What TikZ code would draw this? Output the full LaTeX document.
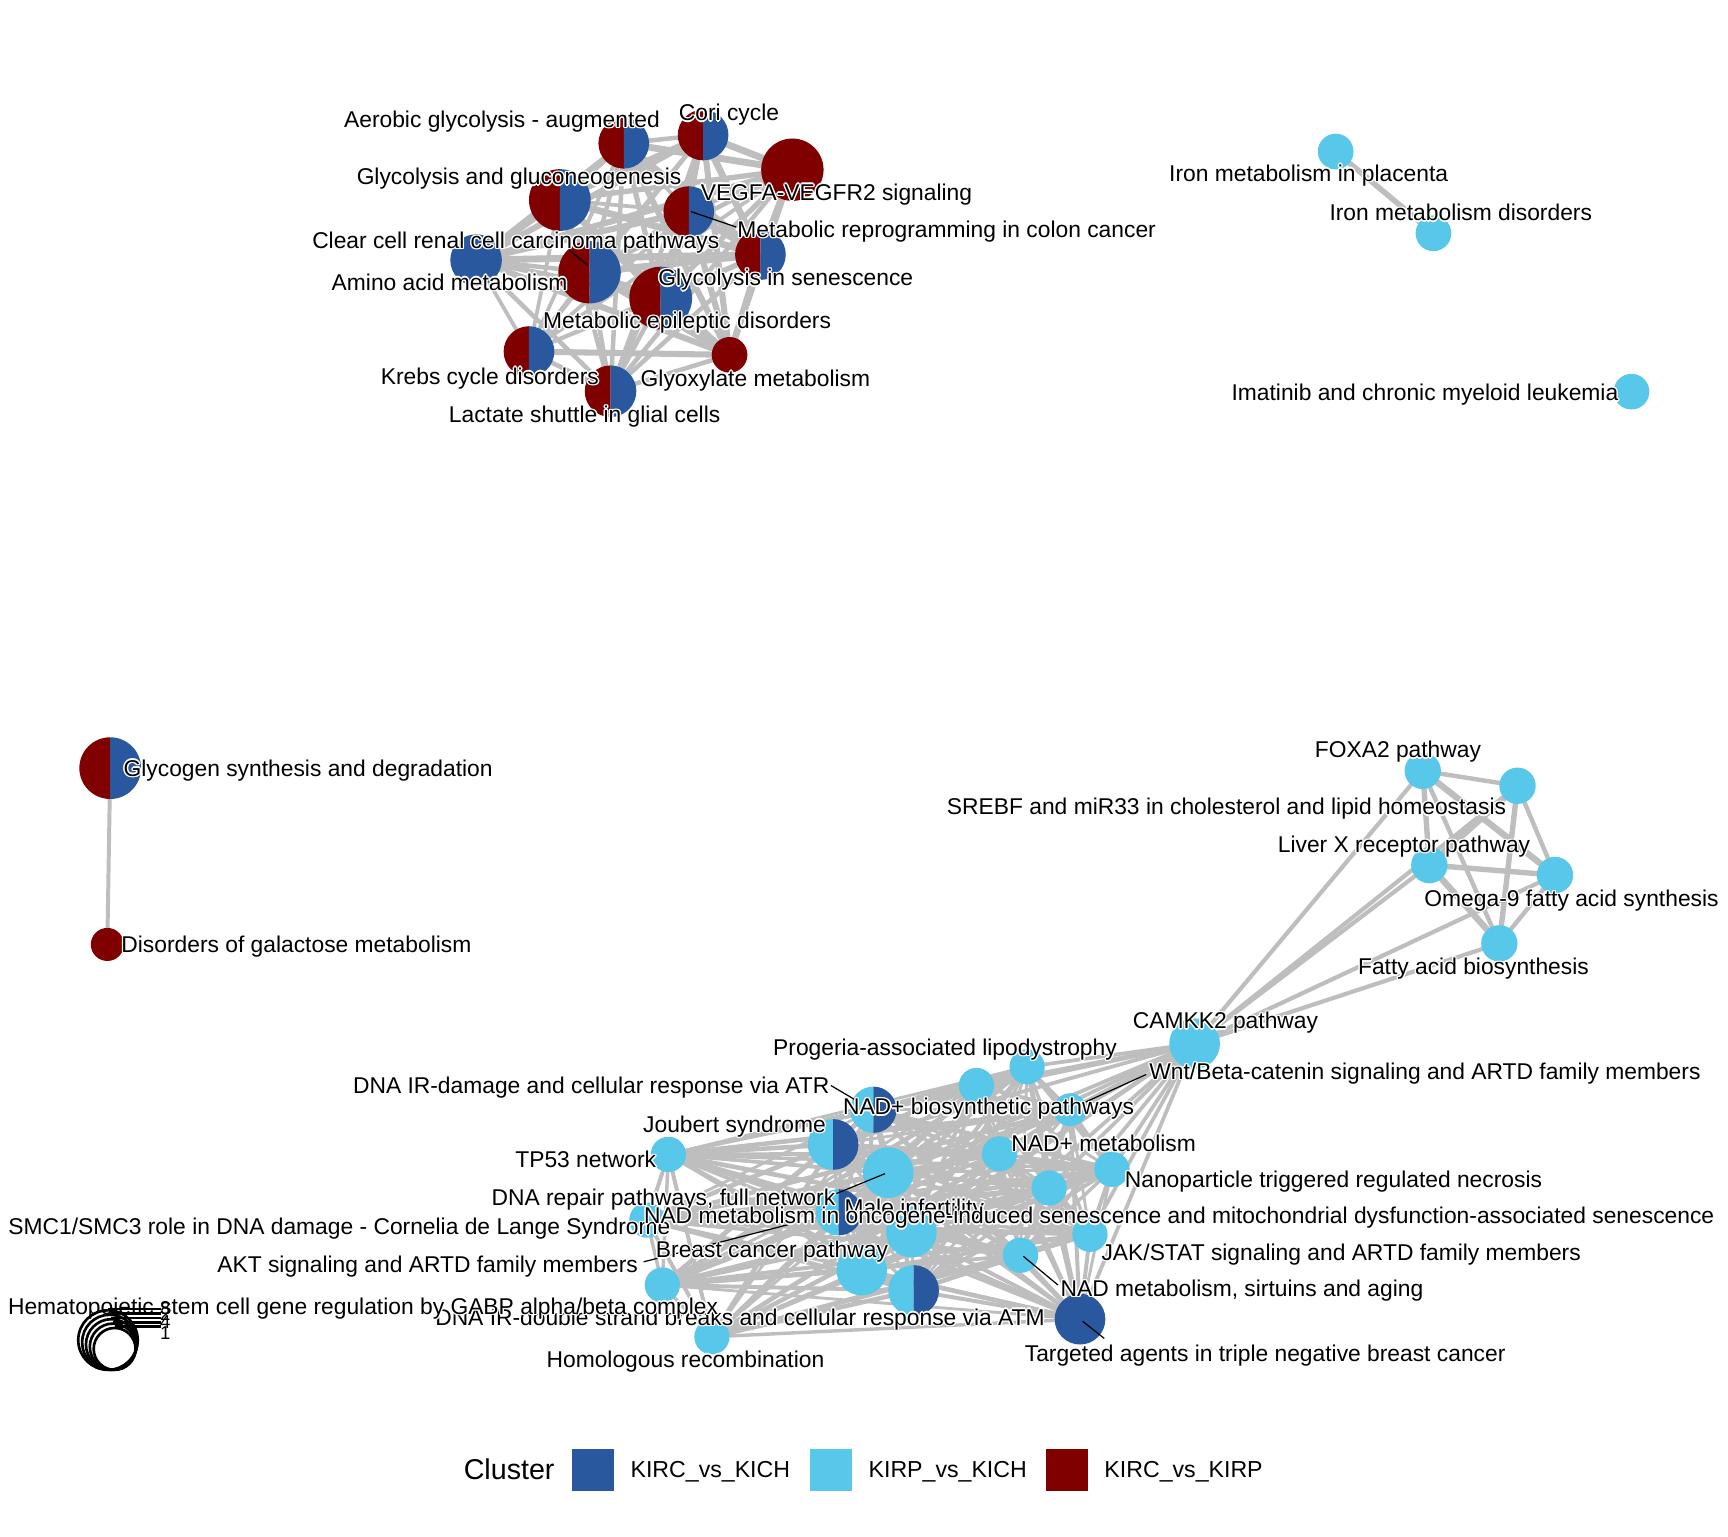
\documentclass[tikz,border=0pt]{standalone}
\usepackage{fontspec}
\setmainfont{Liberation Sans}
\definecolor{kkich}{RGB}{42,88,158}
\definecolor{pkich}{RGB}{87,199,234}
\definecolor{kkirp}{RGB}{128,0,0}
\definecolor{edgec}{RGB}{190,190,190}
\pgfdeclarelayer{bgw}
\pgfdeclarelayer{edges}
\pgfsetlayers{bgw,edges,main}
\newcommand\hl[3]{\rlap{\kern#1\raisebox{#2}{\textcolor{white}{#3}}}}
\newcommand\halo[1]{\hl{-1.3pt}{0pt}{#1}\hl{1.3pt}{0pt}{#1}\hl{0pt}{1.3pt}{#1}\hl{0pt}{-1.3pt}{#1}\hl{-.9pt}{.9pt}{#1}\hl{.9pt}{.9pt}{#1}\hl{-.9pt}{-.9pt}{#1}\hl{.9pt}{-.9pt}{#1}#1}
\newcommand\dotnode[4]{\node[circle,inner sep=0pt,minimum size=#3pt*2,fill=#4] (#1) at (#2) {};}
\newcommand\pienode[5]{%
  \node[circle,inner sep=0pt,minimum size=#3pt*2] (#1) at (#2) {};
  \fill[#4] (#1.center) ++(0pt,#3pt) arc[start angle=90,end angle=270,radius=#3pt] -- cycle;
  \fill[#5] (#1.center) ++(0pt,-#3pt) arc[start angle=-90,end angle=90,radius=#3pt] -- cycle;}
\begin{document}
\begin{tikzpicture}[x=1pt,y=-1pt,
  edge/.style={draw=edgec,line cap=round},
  lbl/.style={font=\fontsize{20.7}{24}\selectfont,inner sep=0pt,anchor=base},
  lblw/.style={lbl,anchor=base west},
  seg/.style={draw=black,line width=1.1pt},
  leg/.style={font=\fontsize{21}{25}\selectfont,inner sep=0pt,anchor=base west},
  sqr/.style={minimum size=38pt,inner sep=0pt},
  szc/.style={circle,draw=black,line width=2.4pt,inner sep=0pt},
  dig/.style={font=\fontsize{17}{19}\selectfont,inner sep=0pt}]
\begin{pgfonlayer}{bgw}
\fill[white] (0,0) rectangle (1568,1394);
\end{pgfonlayer}
\useasboundingbox (0,0) rectangle (1568,1394);

% ---------- top cluster nodes
\pienode{a4}{508,181.5}{28}{kkirp}{kkich}
\dotnode{a3}{719,154}{28.3}{kkirp}
\pienode{a1}{566,130}{23}{kkirp}{kkich}
\pienode{a2}{638,122.5}{23}{kkirp}{kkich}
\pienode{a5}{625,192}{23}{kkirp}{kkich}
\dotnode{a6}{432,236}{23.4}{kkich}
\pienode{a7}{535,247}{28.3}{kkirp}{kkich}
\pienode{a8}{690,231}{23}{kkirp}{kkich}
\pienode{a9}{599.5,270.5}{28.5}{kkirp}{kkich}
\pienode{a10}{480,319}{23}{kkirp}{kkich}
\dotnode{a11}{662,322}{16.2}{kkirp}
\pienode{a12}{554,355}{23.4}{kkirp}{kkich}

% ---------- iron / imatinib
\dotnode{d1}{1212,137.5}{16.2}{pkich}
\dotnode{d2}{1300.7,211.7}{16.2}{pkich}
\dotnode{d3}{1480.4,355.4}{16.2}{pkich}

% ---------- glycogen
\pienode{e1}{100,697}{28}{kkirp}{kkich}
\dotnode{e2}{97.4,857}{15}{kkirp}

% ---------- FOXA2 cluster
\dotnode{c1}{1291,699.5}{16.5}{pkich}
\dotnode{c2}{1377,713}{16.5}{pkich}
\dotnode{c3}{1297,785}{16.5}{pkich}
\dotnode{c4}{1411,794}{16.5}{pkich}
\dotnode{c5}{1360.5,856}{16.5}{pkich}

% ---------- lower cluster
\dotnode{b21}{1084,947}{23}{pkich}
\dotnode{b12}{886,985}{16}{pkich}
\dotnode{b13}{932,968}{16}{pkich}
\dotnode{b14}{971,1007}{15}{pkich}
\dotnode{b15}{907,1047}{16}{pkich}
\dotnode{b16}{1009,1061}{16}{pkich}
\dotnode{b17}{952,1078}{16}{pkich}
\dotnode{b18}{989,1120}{16}{pkich}
\dotnode{b19}{926,1139}{16}{pkich}
\dotnode{b20}{980,1197}{23}{kkich}
\dotnode{b3}{606.5,1047.5}{16}{pkich}
\dotnode{b7}{587,1107}{16}{pkich}
\dotnode{b8}{601,1166}{16}{pkich}
\dotnode{b11}{646,1213}{16}{pkich}
\pienode{b1}{792.5,1007}{21}{pkich}{kkich}
\pienode{b2}{756,1038.5}{23}{pkich}{kkich}
\dotnode{b4}{806,1064}{23}{pkich}
\pienode{b5}{761,1100}{21}{pkich}{kkich}
\dotnode{b6}{827,1118}{23}{pkich}
\dotnode{b9}{782,1152.5}{23}{pkich}
\pienode{b10}{829,1171}{23}{pkich}{kkich}

% ---------- edges
\begin{pgfonlayer}{edges}
\foreach \u [count=\i] in {a1,a2,a3,a4,a5,a6,a7,a8,a9,a10,a11,a12}{
  \foreach \v [count=\j] in {a1,a2,a3,a4,a5,a6,a7,a8,a9,a10,a11,a12}{
    \ifnum\j>\i
      \pgfmathsetmacro\w{3.4+mod(\i*5+\j*3,5)*0.7}
      \draw[edge,line width=\w pt] (\u) -- (\v);
    \fi}}
\foreach \u [count=\i] in {b1,b2,b3,b4,b5,b6,b7,b8,b9,b10,b11,b12,b13,b14,b15,b16,b17,b18,b19,b20}{
  \foreach \v [count=\j] in {b1,b2,b3,b4,b5,b6,b7,b8,b9,b10,b11,b12,b13,b14,b15,b16,b17,b18,b19,b20}{
    \ifnum\j>\i
      \pgfmathsetmacro\w{2.6+mod(\i*3+\j*7,4)*0.5}
      \draw[edge,line width=\w pt] (\u) -- (\v);
    \fi}}
\foreach \v in {b1,b2,b3,b4,b5,b6,b9,b10,b12,b13,b14,b15,b16,b17,b18,b19,b20}
  \draw[edge,line width=3.4pt] (b21) -- (\v);
\foreach \u [count=\i] in {c1,c2,c3,c4,c5}{
  \foreach \v [count=\j] in {c1,c2,c3,c4,c5}{
    \ifnum\j>\i
      \pgfmathsetmacro\w{4+mod(\i+\j,3)*0.9}
      \draw[edge,line width=\w pt] (\u) -- (\v);
    \fi}}
\foreach \v in {c1,c2,c3,c4,c5}
  \draw[edge,line width=3.8pt] (b21) -- (\v);
\draw[edge,line width=5pt] (d1) -- (d2);
\draw[edge,line width=3.6pt] (e1) -- (e2);
\end{pgfonlayer}

% ---------- leader segments
\coordinate (sF1) at (517,227.5); \coordinate (sF2) at (533,240.5);
\coordinate (sE1) at (627,192);   \coordinate (sE2) at (668,206);
\coordinate (s21) at (754,985);   \coordinate (s22) at (776,998);
\coordinate (s31) at (1040,975);  \coordinate (s32) at (985,1000);
\coordinate (s91) at (759,1083);  \coordinate (s92) at (803,1065);
\coordinate (s151) at (584,1145); \coordinate (s152) at (720,1110);
\coordinate (s161) at (928.6,1140); \coordinate (s162) at (960,1166);
\coordinate (s201) at (982.5,1199); \coordinate (s202) at (1002,1214.5);
\foreach \p/\q in {sF1/sF2,sE1/sE2,s21/s22,s31/s32,s91/s92,s151/s152,s161/s162,s201/s202}
  \draw[seg] (\p) -- (\q);

% ---------- labels, top cluster
\node[lbl] (tA) at (455.5,115.5) {\halo{Aerobic glycolysis - augmented}};
\node[lbl] (tB) at (661.5,109.5) {\halo{Cori cycle}};
\node[lbl] (tC) at (471,167.5) {\halo{Glycolysis and gluconeogenesis}};
\node[lbl] (tD) at (759,181.5) {\halo{VEGFA-VEGFR2 signaling}};
\node[lbl] (tE) at (859,215.5) {\halo{Metabolic reprogramming in colon cancer}};
\node[lbl] (tF) at (468,225.5) {\halo{Clear cell renal cell carcinoma pathways}};
\node[lbl] (tG) at (408,263.5) {\halo{Amino acid metabolism}};
\node[lbl] (tH) at (713,259.5) {\halo{Glycolysis in senescence}};
\node[lbl] (tI) at (623.5,298.5) {\halo{Metabolic epileptic disorders}};
\node[lbl] (tJ) at (444.5,348.5) {\halo{Krebs cycle disorders}};
\node[lbl] (tK) at (685.5,350.5) {\halo{Glyoxylate metabolism}};
\node[lbl] (tL) at (530.5,383.5) {\halo{Lactate shuttle in glial cells}};

\node[lbl] (tM) at (1187.5,164.5) {\halo{Iron metabolism in placenta}};
\node[lbl] (tN) at (1325.5,200.5) {\halo{Iron metabolism disorders}};
\node[lbl] (tO) at (1293,363.5) {\halo{Imatinib and chronic myeloid leukemia}};

\node[lblw] (tP) at (112,704.5) {\halo{Glycogen synthesis and degradation}};
\node[lblw] (tQ) at (110,864.5) {\halo{Disorders of galactose metabolism}};

\node[lbl] (tR) at (1268.5,687.5) {\halo{FOXA2 pathway}};
\node[lbl] (tS) at (1113,739.5) {\halo{SREBF and miR33 in cholesterol and lipid homeostasis}};
\node[lbl] (tT) at (1274,773.5) {\halo{Liver X receptor pathway}};
\node[lbl] (tU) at (1426,822.5) {\halo{Omega-9 fatty acid synthesis}};
\node[lbl] (tV) at (1337,884.5) {\halo{Fatty acid biosynthesis}};
\node[lbl] (tW) at (1112,933.5) {\halo{CAMKK2 pathway}};

% ---------- labels, lower cluster
\node[lbl] (u1) at (857.5,957.5) {\halo{Progeria-associated lipodystrophy}};
\node[lbl] (u2) at (536.5,992.5) {\halo{DNA IR-damage and cellular response via ATR}};
\node[lbl] (u3) at (1293,979.5) {\halo{Wnt/Beta-catenin signaling and ARTD family members}};
\node[lbl] (u4) at (897,1011.5) {\halo{NAD+ biosynthetic pathways}};
\node[lbl] (u5) at (666.5,1027.5) {\halo{Joubert syndrome}};
\node[lbl] (u6) at (1001.5,1044.5) {\halo{NAD+ metabolism}};
\node[lbl] (u7) at (531.5,1059.5) {\halo{TP53 network}};
\node[lbl] (u8) at (1210,1077.5) {\halo{Nanoparticle triggered regulated necrosis}};
\node[lbl] (u9) at (602,1093.5) {\halo{DNA repair pathways, full network}};
\node[lbl] (u10) at (829.6,1102.5) {\halo{Male infertility}};
\node[lbl] (u12) at (308,1120.5) {\halo{SMC1/SMC3 role in DNA damage - Cornelia de Lange Syndrome}};
\node[lbl] (u11) at (1070,1110.5) {\halo{NAD metabolism in oncogene-induced senescence and mitochondrial dysfunction-associated senescence}};
\node[lbl] (u13) at (700.5,1141.5) {\halo{Breast cancer pathway}};
\node[lbl] (u14) at (1217,1143.5) {\halo{JAK/STAT signaling and ARTD family members}};
\node[lbl] (u15) at (388,1154.5) {\halo{AKT signaling and ARTD family members}};
\node[lbl] (u16) at (1127,1176.5) {\halo{NAD metabolism, sirtuins and aging}};
\node[lbl] (u17) at (671.5,1202.5) {\halo{DNA IR-double strand breaks and cellular response via ATM}};
\node[lbl] (u18) at (329.5,1192.5) {\halo{Hematopoietic stem cell gene regulation by GABP alpha/beta complex}};
\node[lbl] (u19) at (622,1240.5) {\halo{Homologous recombination}};
\node[lbl] (u20) at (1148,1235.5) {\halo{Targeted agents in triple negative breast cancer}};

% ---------- size legend
\coordinate (szx) at (146,0);
\node[szc,minimum size=54pt] (sz1) at (98,1216) {};
\node[szc,minimum size=50pt] (sz2) at (99.5,1218) {};
\node[szc,minimum size=46pt] (sz3) at (101,1220) {};
\node[szc,minimum size=42pt] (sz4) at (102.5,1222) {};
\node[szc,minimum size=38pt] (sz5) at (104,1224) {};
\foreach \s in {sz1,sz2,sz3,sz4,sz5}
  \draw[line width=2.4pt] (\s.north) -- (\s.north -| szx);
\node[dig] (n3) at (150,1187) {3};
\node[dig] (n2) at (150,1192) {2};
\node[dig] (n4) at (150,1200) {4};
\node[dig] (n1) at (150,1210) {1};

% ---------- colour legend
\node[font=\fontsize{26}{30}\selectfont,inner sep=0pt,anchor=base] (lgt) at (462,1342.5) {Cluster};
\node[sqr,fill=kkich] (sq1) at (538,1333.5) {};
\node[leg] (lg1) at (572,1341) {KIRC\_vs\_KICH};
\node[sqr,fill=pkich] (sq2) at (754,1333.5) {};
\node[leg] (lg2) at (788,1341) {KIRP\_vs\_KICH};
\node[sqr,fill=kkirp] (sq3) at (968,1333.5) {};
\node[leg] (lg3) at (1002,1341) {KIRC\_vs\_KIRP};
\end{tikzpicture}
\end{document}
